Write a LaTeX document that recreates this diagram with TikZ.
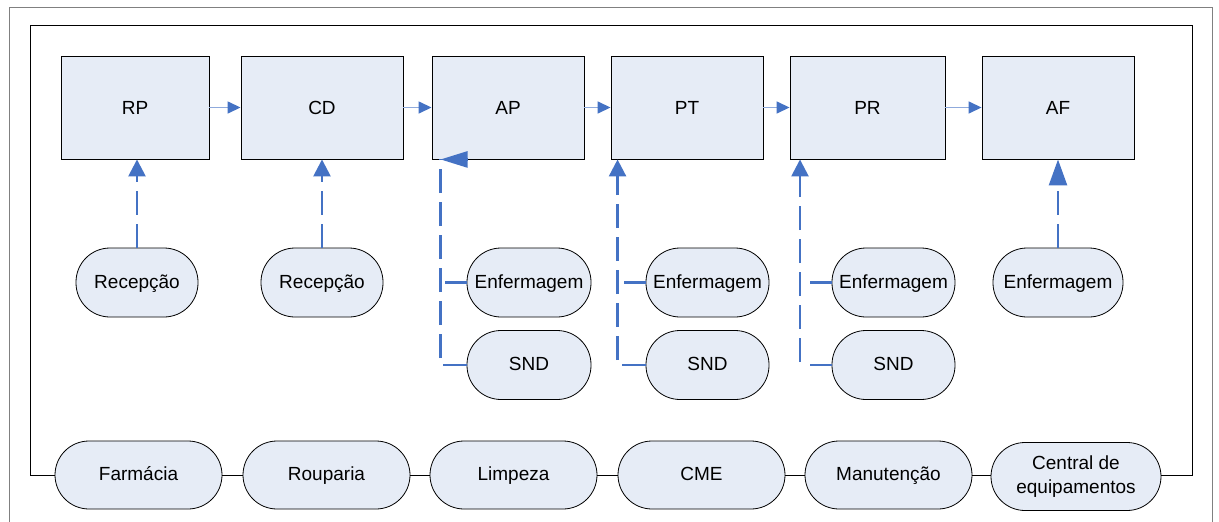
\documentclass[tikz,border=0pt]{standalone}
\usepackage{fontspec}
\setmainfont{Liberation Sans}
\usetikzlibrary{arrows.meta,calc}
\definecolor{boxfill}{RGB}{230,236,246}
\definecolor{dblue}{RGB}{68,114,196}
\definecolor{lblue}{RGB}{143,170,220}
\begin{document}
\begin{tikzpicture}[x=1pt,y=-1pt,
  box/.style={draw=black, fill=boxfill, line width=0.9pt, minimum height=103pt, inner sep=0pt, text height=14pt, text depth=0pt, font=\fontsize{19}{23}\selectfont},
  pillbase/.style={draw=black, fill=boxfill, line width=0.8pt, rounded corners=34pt, minimum height=68pt, inner sep=0pt, align=center, font=\fontsize{19}{24}\selectfont},
  pill/.style={pillbase, text height=14pt, text depth=3pt},
  dashline/.style={dblue, line width=2.6pt, dash pattern=on 24pt off 9pt},
  uptip/.style={-{Triangle[length=17pt,width=17pt]}},
  flow/.style={lblue, line width=1.5pt, -{Triangle[length=13pt,width=12pt,color=dblue]}},
  conn/.style={black, line width=0.8pt}
]
\useasboundingbox (0,0) rectangle (1219,522);
% outer frame
\draw[gray, line width=1.3pt] (9.5,530) -- (9.5,7.5) -- (1212.5,7.5) -- (1212.5,530);
% process boxes
\node[box, minimum width=148pt] (RP) at (135,107.5) {RP};
\node[box, minimum width=162pt] (CD) at (322,107.5) {CD};
\node[box, minimum width=152pt] (AP) at (508,107.5) {AP};
\node[box, minimum width=152pt] (PT) at (687,107.5) {PT};
\node[box, minimum width=155pt] (PR) at (867.5,107.5) {PR};
\node[box, minimum width=152pt] (AF) at (1058,107.5) {AF};
\draw[flow] (RP.east) -- (CD.west);
\draw[flow] (CD.east) -- (AP.west);
\draw[flow] (AP.east) -- (PT.west);
\draw[flow] (PT.east) -- (PR.west);
\draw[flow] (PR.east) -- (AF.west);
% support pills
\node[pill, minimum width=122pt, minimum height=69pt] (rec1) at (137,282.5) {Recepção};
\node[pill, minimum width=122pt, minimum height=69pt] (rec2) at (322,282.5) {Recepção};
\node[pill, minimum width=124pt, minimum height=69pt] (enfA) at (529,282.5) {Enfermagem};
\node[pill, minimum width=124pt, minimum height=69pt] (sndA) at (529,365) {SND};
\node[pill, minimum width=123pt, minimum height=69pt] (enfT) at (707.5,282.5) {Enfermagem};
\node[pill, minimum width=123pt, minimum height=69pt] (sndT) at (707.5,365) {SND};
\node[pill, minimum width=123pt, minimum height=69pt] (enfR) at (893.5,282.5) {Enfermagem};
\node[pill, minimum width=123pt, minimum height=69pt] (sndR) at (893.5,365) {SND};
\node[pill, minimum width=130pt, minimum height=69pt] (enfF) at (1058,282.5) {Enfermagem};
% dashed connectors
\draw[dashline, uptip] (rec1.north) -- (rec1.north |- RP.south);
\draw[dashline, uptip] (rec2.north) -- (rec2.north |- CD.south);
\draw[dashline, -{Triangle[length=26pt,width=18pt]}] (enfF.north) -- (enfF.north |- AF.south);
% AP
\coordinate (apc) at ($(AP.south west)+(9,0)$);
\draw[dashline] (sndA.west) -| (apc);
\draw[dashline, -{Triangle[length=27pt,width=16pt]}] ($(apc)+(27,0)$) -- (apc);
\draw[dashline] (enfA.west) -- ++(-22,0);
% PT
\draw[dashline, uptip] (sndT.west) -| ($(PT.south west)+(7,0)$);
\draw[dashline] (enfT.west) -- ++(-22,0);
% PR
\coordinate (prb) at (800,362);
\draw[dashline, uptip] (prb) -- (prb |- PR.south);
\draw[dashline] (enfR.west) -- ++(-22,0);
\draw[dashline] (sndR.west) -- ++(-22,0);
% bottom shared services
\node[pill, minimum width=167pt] (farm) at (138.5,475) {Farmácia};
\node[pill, minimum width=167pt] (roup) at (326.5,475) {Rouparia};
\node[pill, minimum width=167pt] (limp) at (513.5,475) {Limpeza};
\node[pill, minimum width=167pt] (cme) at (701.5,475) {CME};
\node[pill, minimum width=167pt] (manu) at (888.5,475) {Manutenção};
\node[pillbase, minimum width=170pt] (cent) at (1076,476.5) {Central de\\equipamentos};
\draw[conn] (farm.east) -- (roup.west);
\draw[conn] (roup.east) -- (limp.west);
\draw[conn] (limp.east) -- (cme.west);
\draw[conn] (cme.east) -- (manu.west);
\draw[conn] (manu.east) -- (cent.west |- farm.east);
\draw[conn] (farm.west) -- (30,475) -- (30,25) -- (1192,25) -- (1192,475) -- (cent.east |- farm.east);
\end{tikzpicture}
\end{document}
